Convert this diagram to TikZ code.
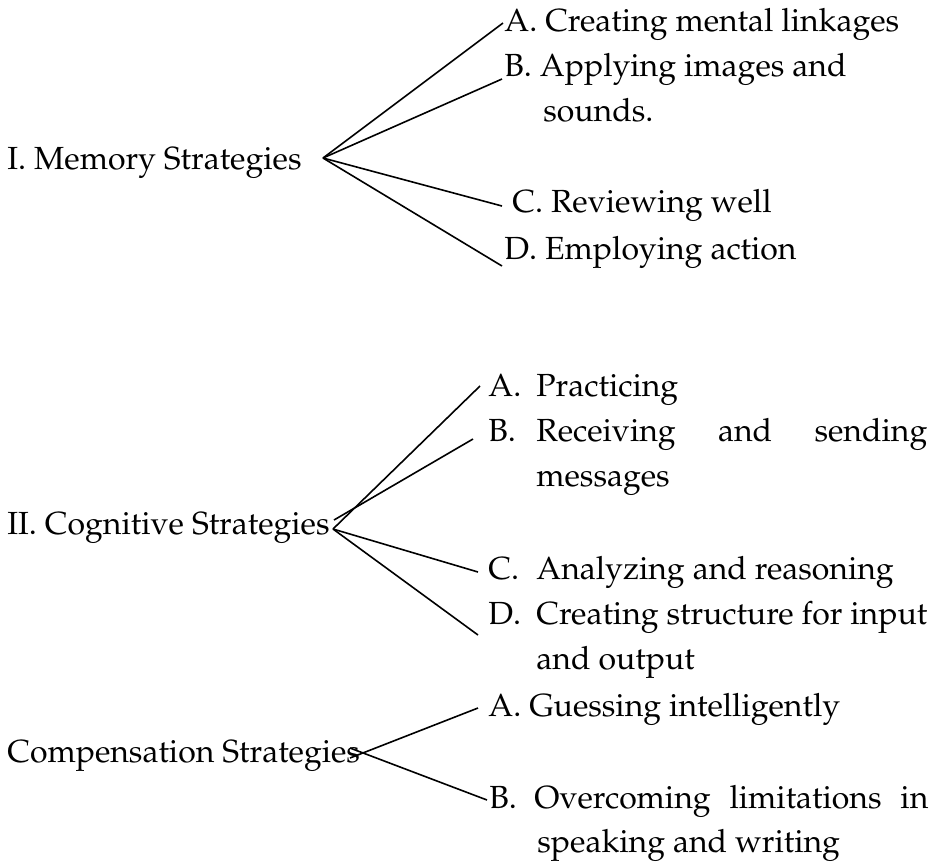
\documentclass[tikz,border=0pt]{standalone}
\usepackage[T1]{fontenc}
\usepackage{mathpazo}
\newcommand{\lab}[1]{\makebox[24pt][l]{#1}}
\begin{document}
\begin{tikzpicture}[x=0.5pt,y=-0.5pt,
  every node/.style={inner sep=0pt,anchor=base west,font=\fontsize{16}{22.5}\selectfont},
  branch/.style={line width=0.8pt}]
\useasboundingbox (0,0) rectangle (937,864);

%memory strategies
\node (mem) at (7,169) {I. Memory Strategies};
\node (memA) at (504,31) {A. Creating mental linkages};
\node (memB) at (504,76) {B. Applying images and};
\node (memBb) at (543,121) {sounds.};
\node (memC) at (512,212) {C. Reviewing well};
\node (memD) at (504,259) {D. Employing action};

\coordinate (memhub) at (323,158);
\coordinate (memAend) at (503,23);
\coordinate (memBend) at (502,79);
\coordinate (memCend) at (502,206);
\coordinate (memDend) at (502,266);
\foreach \e in {memAend,memBend,memCend,memDend} \draw[branch] (memhub) -- (\e);

%cognitive strategies
\node (cog) at (7,534) {II. Cognitive Strategies};
\node (cogA) at (488,396) {\lab{A.}Practicing};
\node (cogB) at (488,441) {\lab{B.}\makebox[195.5pt][s]{Receiving and sending}};
\node (cogBb) at (536,486) {messages};
\node (cogC) at (488,579) {\lab{C.}Analyzing and reasoning};
\node (cogD) at (488,624) {\lab{D.}Creating structure for input};
\node (cogDb) at (536,669) {and output};

\coordinate (coghub) at (333,529);
\coordinate (cogBstart) at (334,520);
\coordinate (cogAend) at (480,386);
\coordinate (cogBend) at (473,439);
\coordinate (cogCend) at (478,572);
\coordinate (cogDend) at (478,635);
\draw[branch] (cogBstart) -- (cogBend);
\foreach \e in {cogAend,cogCend,cogDend} \draw[branch] (coghub) -- (\e);

%compensation strategies
\node (comp) at (7,762) {Compensation Strategies};
\node (compA) at (488,716) {A. Guessing intelligently};
\node (compB) at (489,808) {\makebox[22.5pt][l]{B.}\makebox[197pt][s]{Overcoming limitations in}};
\node (compBb) at (537,852) {speaking and writing};

\coordinate (compAstart) at (350,758);
\coordinate (compBstart) at (350,748);
\coordinate (compAend) at (478,708);
\coordinate (compBend) at (487,800);
\draw[branch] (compAstart) -- (compAend);
\draw[branch] (compBstart) -- (compBend);

\end{tikzpicture}
\end{document}
